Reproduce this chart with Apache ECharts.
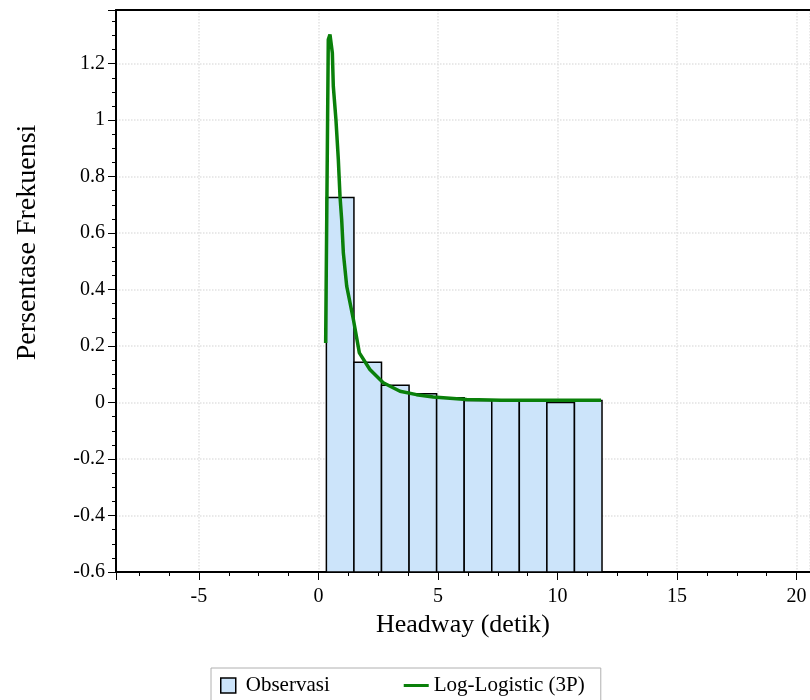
<!DOCTYPE html>
<html>
<head>
<meta charset="utf-8">
<script src="https://cdn.jsdelivr.net/npm/echarts@6/dist/echarts.min.js"></script>
<style>
  html, body { margin: 0; padding: 0; background: #fff; }
  #chart { width: 810px; height: 700px; }
</style>
</head>
<body>
<div id="chart"></div>
<script>
// histogram bins (detik) and observed frequency
var binEdges = [0.33, 1.483, 2.636, 3.789, 4.942, 6.095, 7.248, 8.401, 9.554, 10.707, 11.86]
var observasi = [0.726, 0.143, 0.061, 0.031, 0.017, 0.007, 0.008, 0.008, 0.0, 0.007]

// fitted Log-Logistic (3P) curve
var curveX = [0.30, 0.41, 0.48, 0.58, 0.62, 0.73, 0.83, 0.90, 0.97, 1.04, 1.18, 1.46, 1.71, 2.15, 2.71, 3.41, 4.10, 4.80, 6.20, 7.64, 9.00, 11.82]
var curveY = [0.211, 1.285, 1.303, 1.238, 1.120, 1.002, 0.860, 0.730, 0.648, 0.530, 0.412, 0.294, 0.176, 0.117, 0.070, 0.040, 0.028, 0.020, 0.011, 0.008, 0.008, 0.008]

var xMin = -8.47, xMax = 20.56
var yMin = -0.6, yMax = 1.39

var barData = []
for (var i = 0; i < observasi.length; i++) {
  barData.push([binEdges[i], binEdges[i + 1], observasi[i]])
}
var lineData = curveX.map(function (x, i) { return [x, curveY[i]] })

var font = 'Liberation Serif'
var gridLine = { show: true, lineStyle: { color: '#e2e2e2', type: 'dotted', width: 1.5 } }
var myChart = echarts.init(document.getElementById('chart'))

myChart.setOption({
  animation: false,
  textStyle: { fontFamily: font, color: '#000' },
  grid: { left: 116, top: 10, right: 0, bottom: 128 },
  legend: {
    left: 211, top: 668,
    padding: [7, 16, 8, 9],
    itemGap: 74,
    itemWidth: 25, itemHeight: 15,
    borderColor: '#b0b0b0', borderWidth: 1,
    textStyle: { fontFamily: font, fontSize: 21, color: '#000' },
    data: [
      { name: 'Observasi', icon: 'path://M0,0H10V10H0Z',
        itemStyle: { color: '#cce4fa', borderColor: '#000', borderWidth: 1.5 } },
      { name: 'Log-Logistic (3P)', icon: 'path://M0,0H25V3H0Z',
        itemStyle: { color: '#0a800a' } }
    ]
  },
  xAxis: [
    {
      type: 'value',
      min: xMin, max: xMax,
      splitNumber: 6,
      name: 'Headway (detik)',
      nameLocation: 'middle',
      nameGap: 40,
      nameTextStyle: { fontFamily: font, fontSize: 26, color: '#000' },
      axisLine: { onZero: false, lineStyle: { color: '#000', width: 2 } },
      axisTick: { length: 8, lineStyle: { color: '#000' } },
      minorTick: { show: true, splitNumber: 4, length: 4, lineStyle: { color: '#000' } },
      axisLabel: { fontFamily: font, fontSize: 20, color: '#000', margin: 15, showMinLabel: false, showMaxLabel: false },
      splitLine: gridLine
    },
    {
      // top frame line only
      type: 'value',
      position: 'top',
      min: xMin, max: xMax,
      axisLine: { show: true, onZero: false, lineStyle: { color: '#000', width: 2 } },
      axisTick: { show: false },
      axisLabel: { show: false },
      splitLine: { show: false }
    }
  ],
  yAxis: {
    type: 'value',
    min: yMin, max: yMax,
    splitNumber: 10,
    name: 'Persentase Frekuensi',
    nameLocation: 'middle',
    nameGap: 74,
    nameTextStyle: { fontFamily: font, fontSize: 28, color: '#000', padding: [0, 0, 0, 97] },
    axisLine: { onZero: false, lineStyle: { color: '#000', width: 2 } },
    axisTick: { length: 8, lineStyle: { color: '#000' } },
    minorTick: { show: true, splitNumber: 4, length: 4, lineStyle: { color: '#000' } },
    axisLabel: { fontFamily: font, fontSize: 20, color: '#000', margin: 11, showMaxLabel: false },
    splitLine: gridLine
  },
  series: [
    {
      name: 'Observasi',
      type: 'custom',
      itemStyle: { color: '#cce4fa', borderColor: '#000', borderWidth: 1.5 },
      encode: { x: [0, 1], y: 2 },
      data: barData,
      renderItem: function (params, api) {
        var topLeft = api.coord([api.value(0), api.value(2)])
        var bottomRight = api.coord([api.value(1), yMin])
        return {
          type: 'rect',
          shape: {
            x: topLeft[0], y: topLeft[1],
            width: bottomRight[0] - topLeft[0],
            height: bottomRight[1] - topLeft[1]
          },
          style: { fill: '#cce4fa', stroke: '#000', lineWidth: 1.5 }
        }
      }
    },
    {
      name: 'Log-Logistic (3P)',
      type: 'line',
      z: 3,
      symbol: 'none',
      color: '#0a800a',
      lineStyle: { color: '#0a800a', width: 3.5 },
      data: lineData
    }
  ]
})
</script>
</body>
</html>
